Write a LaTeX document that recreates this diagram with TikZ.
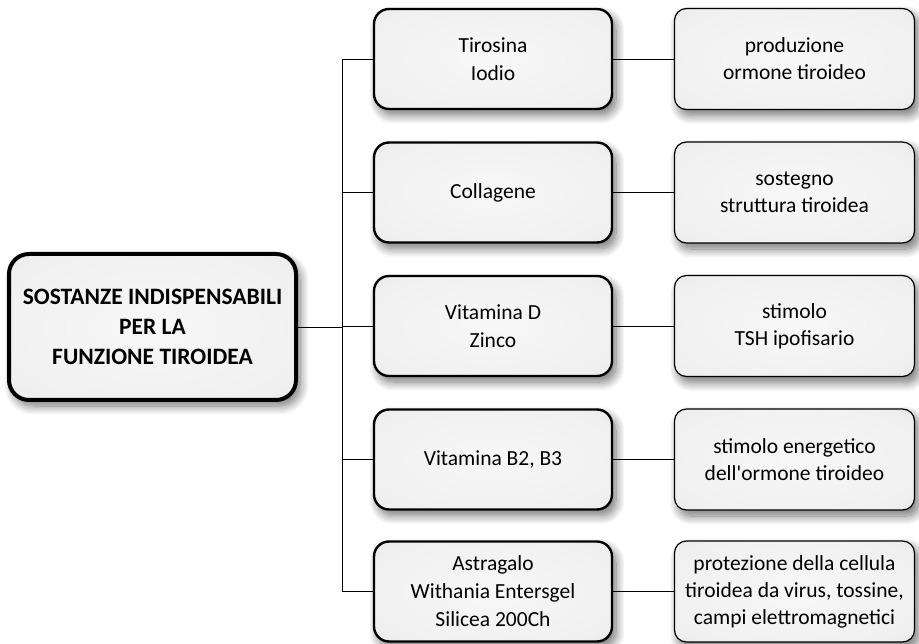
\documentclass[tikz,border=0pt]{standalone}
\usepackage{fontspec}
\setmainfont{Carlito}[Ligatures=TeXOff]
\usetikzlibrary{shadows.blur}
\pgfdeclareradialshading{boxshade}{\pgfpoint{0bp}{0bp}}{%
  color(0bp)=(black!3); color(30bp)=(black!6); color(42bp)=(black!11);
  color(48bp)=(black!19); color(52bp)=(black!26); color(72bp)=(black!32)}
\begin{document}
\begin{tikzpicture}[x=1pt,y=-1pt,
  basebox/.style={draw=black, shading=boxshade, align=center, inner sep=0pt,
    blur shadow={shadow xshift=4pt, shadow yshift=-6pt, shadow blur radius=9pt,
      shadow blur steps=12, shadow opacity=55}},
  mainbox/.style={basebox, line width=4pt, rounded corners=20pt,
    minimum width=287pt, minimum height=146pt,
    font=\fontsize{23.5}{30}\selectfont\bfseries},
  midbox/.style={basebox, line width=2.4pt, rounded corners=15pt,
    minimum width=238pt, minimum height=100pt,
    font=\fontsize{21.5}{28}\selectfont},
  rightbox/.style={basebox, line width=1.2pt, rounded corners=12pt,
    minimum width=240pt, minimum height=101pt,
    font=\fontsize{21.5}{27}\selectfont},
  link/.style={draw=black, line width=0.9pt}]
\useasboundingbox (0,0) rectangle (919,644);

\coordinate (bus) at (342,0);

\node[mainbox] (main) at (152.5,327) {SOSTANZE INDISPENSABILI\\PER LA\\FUNZIONE TIROIDEA};

\node[midbox] (m1) at (493,59)    {Tirosina\\Iodio};
\node[midbox] (m2) at (493,192.5) {Collagene};
\node[midbox] (m3) at (493,326)   {Vitamina D\\Zinco};
\node[midbox] (m4) at (493,459.5) {Vitamina B2, B3};
\node[midbox] (m5) at (493,591.5) {Astragalo\\Withania Entersgel\\Silicea 200Ch};

\node[rightbox] (r1) at (794.5,59)    {produzione\\ormone tiroideo};
\node[rightbox] (r2) at (794.5,192.5) {sostegno\\struttura tiroidea};
\node[rightbox] (r3) at (794.5,326)   {stimolo\\TSH ipofisario};
\node[rightbox] (r4) at (794.5,459.5) {stimolo energetico\\dell'ormone tiroideo};
\node[rightbox] (r5) at (794.5,591.5) {protezione della cellula\\tiroidea da virus, tossine,\\campi elettromagnetici};

\draw[link] (m1.west) -- (m1.west -| bus) -- (m5.west -| bus) -- (m5.west);
\draw[link] (m2.west) -- (m2.west -| bus);
\draw[link] (m3.west) -- (m3.west -| bus);
\draw[link] (m4.west) -- (m4.west -| bus);
\draw[link] (main.east) -- (main.east -| bus);

\draw[link] (m1.east) -- (r1.west);
\draw[link] (m2.east) -- (r2.west);
\draw[link] (m3.east) -- (r3.west);
\draw[link] (m4.east) -- (r4.west);
\draw[link] (m5.east) -- (r5.west);
\end{tikzpicture}
\end{document}
